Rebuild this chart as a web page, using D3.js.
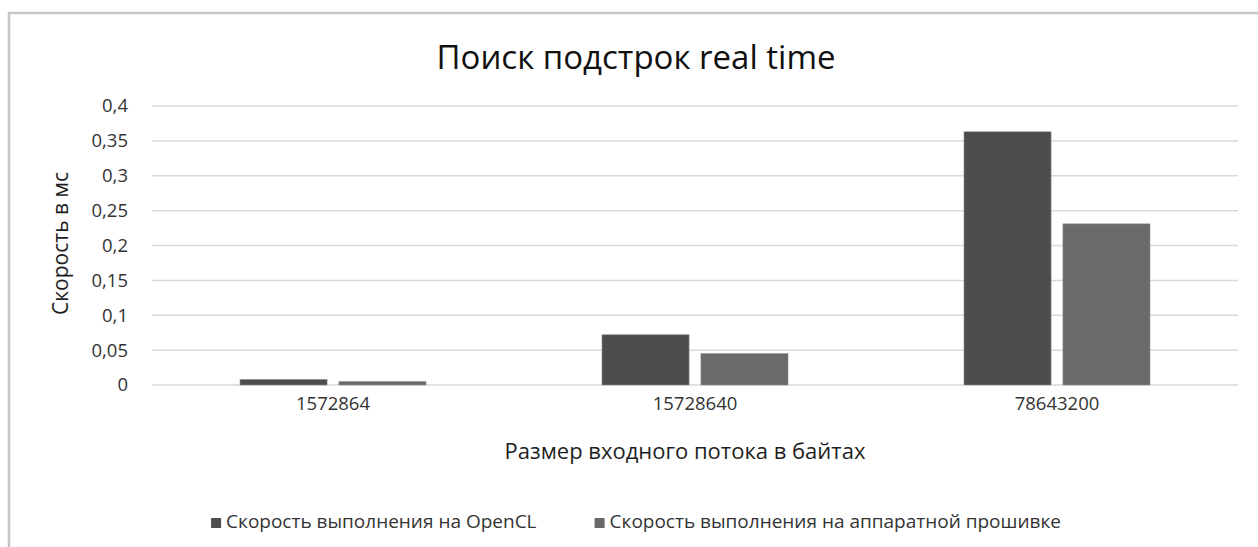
<!DOCTYPE html>
<html>
<head>
<meta charset="utf-8">
<script src="https://cdn.jsdelivr.net/npm/d3@7"></script>
<style>
  body { margin: 0; background: #fff; }
  svg { display: block; font-family: 'Open Sans', sans-serif; }
</style>
</head>
<body>
<div id="chart"></div>
<script>
var categories = ['1572864', '15728640', '78643200'];
var seriesNames = ['Скорость выполнения на OpenCL', 'Скорость выполнения на аппаратной прошивке'];
var openclValues = [0.008, 0.072, 0.363];
var firmwareValues = [0.005, 0.045, 0.231];
var yTicks = [0, 0.05, 0.1, 0.15, 0.2, 0.25, 0.3, 0.35, 0.4];
var colors = ['#4d4d4d', '#6a6a6a'];

(function() {
  var WIDTH = 1258, HEIGHT = 547;
  var plot = { left: 152, right: 1238, top: 106, bottom: 385 };

  var svg = d3.select('#chart').append('svg')
    .attr('width', WIDTH)
    .attr('height', HEIGHT);

  // chart frame
  svg.append('rect')
    .attr('x', 9).attr('y', 13)
    .attr('width', 1270).attr('height', 560)
    .style('fill', '#fff')
    .style('stroke', '#c6c6c6')
    .style('stroke-width', 2.5);

  var x = d3.scaleBand()
    .domain(categories)
    .range([plot.left, plot.right]);

  var inner = d3.scaleBand()
    .domain([0, 1])
    .range([0, 186])
    .paddingInner(0.12);

  var y = d3.scaleLinear()
    .domain([0, 0.4])
    .range([plot.bottom, plot.top]);

  // grid
  svg.append('g')
    .selectAll('line')
    .data(yTicks)
    .enter()
      .append('line')
      .attr('x1', plot.left)
      .attr('x2', plot.right)
      .attr('y1', function(d) { return y(d); })
      .attr('y2', function(d) { return y(d); })
      .style('stroke', '#d9d9d9')
      .style('stroke-width', 1.5);

  // y axis labels
  var yAxis = d3.axisLeft(y)
    .tickValues(yTicks)
    .tickSize(0)
    .tickPadding(0)
    .tickFormat(function(d) { return String(d).replace('.', ','); });

  svg.append('g')
    .attr('transform', 'translate(128,0)')
    .call(yAxis)
    .call(function(g) { g.select('.domain').remove(); })
    .selectAll('text')
      .style('font-family', "'Open Sans', sans-serif")
      .style('font-size', '18.5px')
      .style('fill', '#333');

  // x axis labels
  var xAxis = d3.axisBottom(x).tickSize(0).tickPadding(0);
  svg.append('g')
    .attr('transform', 'translate(0,' + (plot.bottom + 12) + ')')
    .call(xAxis)
    .call(function(g) { g.select('.domain').remove(); })
    .selectAll('text')
      .style('font-family', "'Open Sans', sans-serif")
      .style('font-size', '18.5px')
      .style('fill', '#333');

  // bars
  var series = [openclValues, firmwareValues];
  var groups = svg.selectAll('.group')
    .data(categories)
    .enter()
      .append('g')
      .attr('class', 'group')
      .attr('transform', function(d) {
        return 'translate(' + (x(d) + x.bandwidth() / 2 - 93) + ',0)';
      });

  groups.selectAll('rect')
    .data(function(d, idx) {
      return series.map(function(s, k) { return { k: k, v: s[idx] }; });
    })
    .enter()
      .append('rect')
      .attr('x', function(d) { return inner(d.k); })
      .attr('width', inner.bandwidth())
      .attr('y', function(d) { return y(d.v); })
      .attr('height', function(d) { return y(0) - y(d.v); })
      .style('fill', function(d) { return colors[d.k]; })
      .style('stroke', '#8c8c8c')
      .style('stroke-width', 0.6);

  // titles
  svg.append('text')
    .attr('x', 636)
    .attr('y', 69)
    .attr('text-anchor', 'middle')
    .style('font-size', '33px')
    .style('fill', '#111')
    .text('Поиск подстрок real time');

  svg.append('text')
    .attr('x', 685)
    .attr('y', 459)
    .attr('text-anchor', 'middle')
    .style('font-size', '22px')
    .style('fill', '#1e1e1e')
    .text('Размер входного потока в байтах');

  svg.append('text')
    .attr('transform', 'translate(68,' + ((plot.top + plot.bottom) / 2 - 2) + ') rotate(-90)')
    .attr('text-anchor', 'middle')
    .style('font-size', '21px')
    .style('fill', '#1e1e1e')
    .text('Скорость в мс');

  // legend
  var legend = svg.append('g').attr('class', 'legend');
  var item = legend.selectAll('.item')
    .data(seriesNames)
    .enter()
      .append('g')
      .attr('class', 'item');

  item.append('rect')
    .attr('width', 10).attr('height', 10)
    .attr('y', -10)
    .style('fill', function(d, i) { return colors[i]; });

  item.append('text')
    .attr('x', 15)
    .style('font-size', '19px')
    .style('fill', '#333')
    .text(function(d) { return d; });

  // lay out legend items centred under chart
  var widths = [];
  item.each(function() { widths.push(this.getBBox().width); });
  var gap = 58;
  var total = d3.sum(widths) + gap * (widths.length - 1);
  var start = 636 - total / 2;
  item.attr('transform', function(d, i) {
    var off = start + d3.sum(widths.slice(0, i)) + gap * i;
    return 'translate(' + off + ',528)';
  });
})();
</script>
</body>
</html>
